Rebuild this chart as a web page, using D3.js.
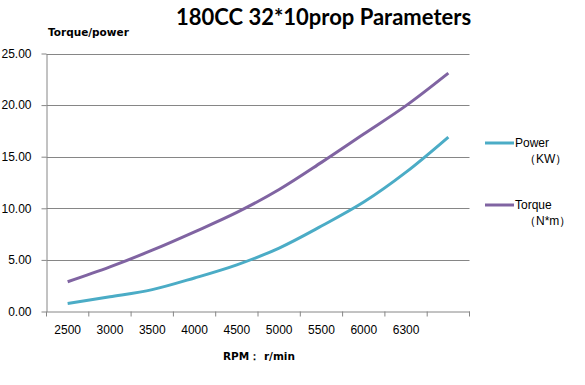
<!DOCTYPE html>
<html>
<head>
<meta charset="utf-8">
<script src="https://cdn.jsdelivr.net/npm/d3@7"></script>
<style>
  body { margin: 0; background: #fff; }
  svg { display: block; font-family: "Liberation Sans", Arial, sans-serif; }
</style>
</head>
<body>
<svg width="585" height="385"></svg>
<script>
// rpm categories (last slot has no label in the original)
var rpm = ["2500", "3000", "3500", "4000", "4500", "5000", "5500", "6000", "6300", ""];
var power = [0.78, 1.42, 2.12, 3.25, 4.52, 6.15, 8.28, 10.6, 13.5, 16.9];
var torque = [2.88, 4.32, 5.94, 7.72, 9.6, 11.82, 14.45, 17.2, 19.95, 23.1];
var yTicks = [0, 5, 10, 15, 20, 25];

var svg = d3.select("svg");
var plotLeft = 46.5, plotRight = 469.5, plotTop = 53.5, plotBottom = 311.5;

var x = d3.scaleBand().domain(d3.range(rpm.length)).range([plotLeft, plotRight]);
var y = d3.scaleLinear().domain([0, 25]).range([plotBottom, plotTop]);

// gridlines
svg.append("g").selectAll("line")
    .data(yTicks.slice(1))
    .enter().append("line")
    .attr("x1", plotLeft).attr("x2", plotRight)
    .attr("y1", function(d) { return Math.round(y(d)) + 0.5; })
    .attr("y2", function(d) { return Math.round(y(d)) + 0.5; })
    .attr("stroke", "#868686");

// y axis
var yAxis = svg.append("g")
    .attr("transform", "translate(" + plotLeft + ",0)")
    .call(d3.axisLeft(y).tickValues(yTicks).tickFormat(d3.format(".2f")).tickSize(5).tickSizeOuter(0));
yAxis.select(".domain").attr("stroke", "#868686");
yAxis.selectAll(".tick line").attr("stroke", "#868686");
yAxis.selectAll("text").attr("font-size", 12).attr("font-family", "Liberation Sans").attr("fill", "#000")
    .attr("x", -15);

// x axis
var xAxis = svg.append("g")
    .attr("transform", "translate(0," + plotBottom + ")")
    .call(d3.axisBottom(x).tickFormat(function(i) { return rpm[i]; }).tickSize(0).tickSizeOuter(0));
xAxis.select(".domain").attr("stroke", "#868686");
xAxis.selectAll("text").attr("font-size", 12).attr("font-family", "Liberation Sans").attr("fill", "#000")
    .attr("y", 14);
// tick marks at band boundaries
svg.append("g").selectAll("line")
    .data(d3.range(rpm.length + 1))
    .enter().append("line")
    .attr("x1", function(i) { return plotLeft + i * x.step(); })
    .attr("x2", function(i) { return plotLeft + i * x.step(); })
    .attr("y1", plotBottom).attr("y2", plotBottom + 5)
    .attr("stroke", "#868686");

var line = d3.line()
    .x(function(d, i) { return x(i) + x.bandwidth() / 2; })
    .y(function(d) { return y(d); })
    .curve(d3.curveCatmullRom);

svg.append("path").datum(power)
    .attr("d", line).attr("fill", "none")
    .attr("stroke", "#4BACC6").attr("stroke-width", 3);
svg.append("path").datum(torque)
    .attr("d", line).attr("fill", "none")
    .attr("stroke", "#8064A2").attr("stroke-width", 3);

// titles
svg.append("text")
    .attr("x", 176).attr("y", 25)
    .attr("font-family", "Lato").attr("font-weight", "bold").attr("font-size", 22)
    .text("180CC 32*10prop Parameters");
svg.append("text")
    .attr("x", 48).attr("y", 36)
    .attr("font-family", "DejaVu Sans").attr("font-weight", "bold").attr("font-size", 10.5)
    .text("Torque/power");
svg.append("text")
    .attr("x", 223).attr("y", 360)
    .attr("font-family", "DejaVu Sans").attr("font-weight", "bold").attr("font-size", 10.5)
    .text("RPM： r/min");

// legend
var legend = [
    { name: "Power", unit: "（KW）", color: "#4BACC6", y: 143 },
    { name: "Torque", unit: "（N*m）", color: "#8064A2", y: 205 }
];
var lg = svg.append("g").selectAll("g").data(legend).enter().append("g");
lg.append("line")
    .attr("x1", 485).attr("x2", 514)
    .attr("y1", function(d) { return d.y; }).attr("y2", function(d) { return d.y; })
    .attr("stroke", function(d) { return d.color; }).attr("stroke-width", 3);
lg.append("text")
    .attr("x", 515).attr("y", function(d) { return d.y + 4; })
    .attr("font-size", 12)
    .text(function(d) { return d.name; });
lg.append("text")
    .attr("x", 524).attr("y", function(d) { return d.y + 20; })
    .attr("font-size", 12)
    .text(function(d) { return d.unit; });
</script>
</body>
</html>
